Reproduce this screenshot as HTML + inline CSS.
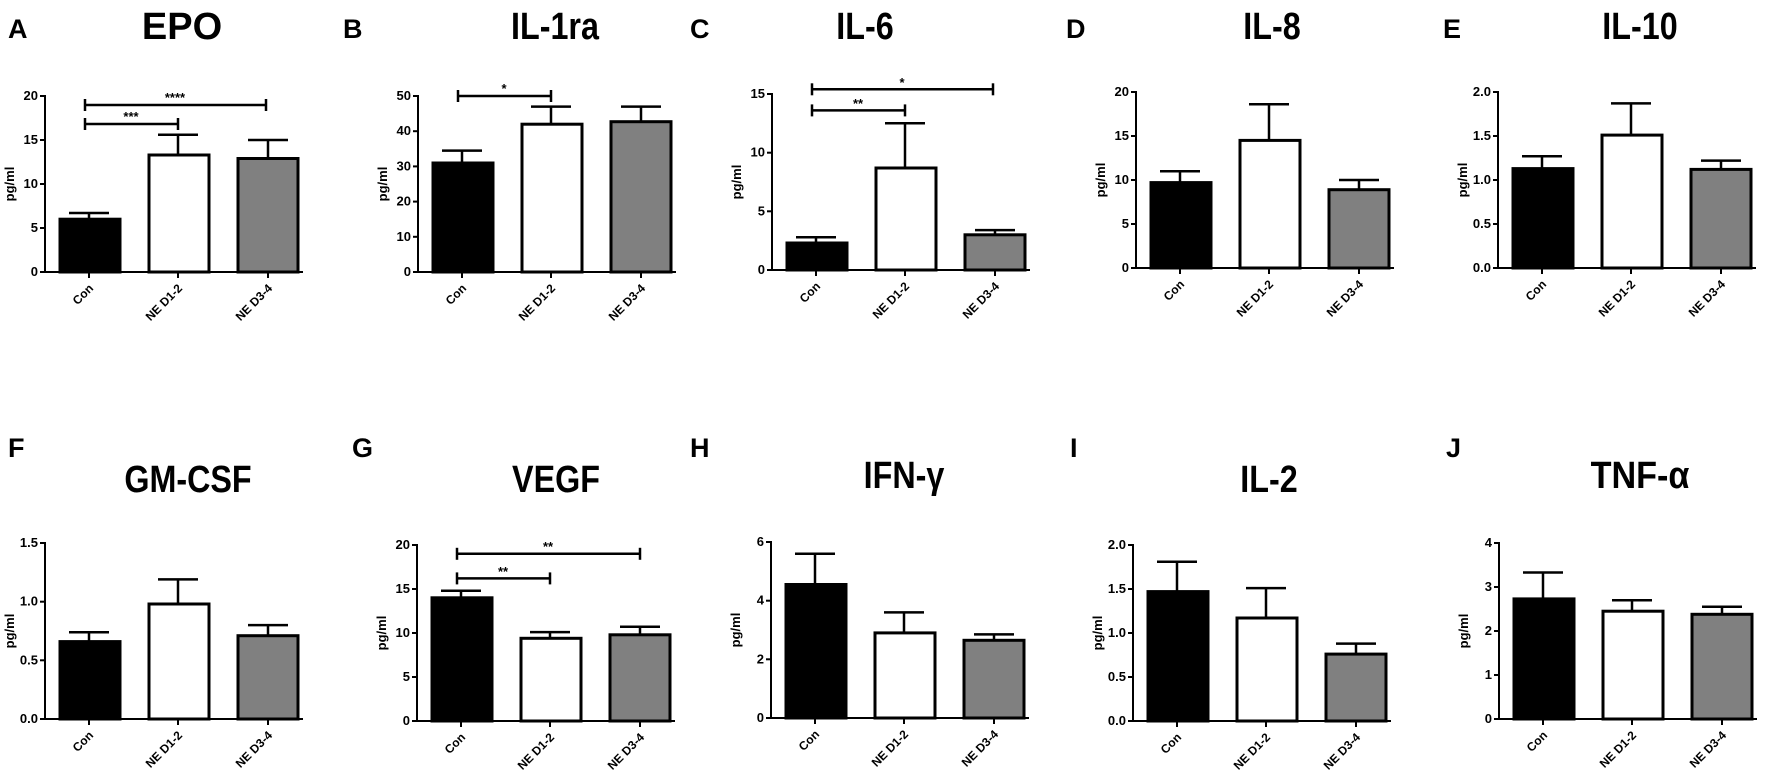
<!DOCTYPE html>
<html><head><meta charset="utf-8"><style>
html,body{margin:0;padding:0;background:#fff;}
svg{display:block;font-family:"Liberation Sans",Arial,sans-serif;}
.t{font-weight:bold;font-size:13px;}
.xt{font-weight:bold;font-size:12px;}
.yl{font-weight:bold;font-size:13px;}
.ttl{font-weight:bold;font-size:38px;}
.lt{font-weight:bold;font-size:27px;}
.st{font-size:13px;font-weight:bold;}
</style></head><body>
<svg width="1772" height="780" viewBox="0 0 1772 780" xmlns="http://www.w3.org/2000/svg">
<defs>
<g id="xl">
<line x1="44" y1="0" x2="44" y2="6" stroke="#000" stroke-width="2"/>
<line x1="133" y1="0" x2="133" y2="6" stroke="#000" stroke-width="2"/>
<line x1="223" y1="0" x2="223" y2="6" stroke="#000" stroke-width="2"/>
<text class="xt" transform="translate(49,17) rotate(-45)" text-anchor="end">Con</text>
<text class="xt" transform="translate(138,17) rotate(-45)" text-anchor="end">NE D1-2</text>
<text class="xt" transform="translate(228,17) rotate(-45)" text-anchor="end">NE D3-4</text>
<text class="yl" transform="translate(-31,-88) rotate(-90)" text-anchor="middle">pg/ml</text>
<line x1="0" y1="1" x2="0" y2="-177" stroke="#000" stroke-width="2"/>
<line x1="-1" y1="0" x2="258" y2="0" stroke="#000" stroke-width="2"/>
</g>
</defs>

<text class="lt" x="8" y="38">A</text>
<text class="ttl" x="182" y="39" text-anchor="middle">EPO</text>
<text class="lt" x="343" y="38">B</text>
<text class="ttl" x="555" y="39" text-anchor="middle" transform="translate(555,0) scale(0.85,1) translate(-555,0)">IL-1ra</text>
<text class="lt" x="690" y="38">C</text>
<text class="ttl" x="865" y="39" text-anchor="middle" transform="translate(865,0) scale(0.85,1) translate(-865,0)">IL-6</text>
<text class="lt" x="1066" y="38">D</text>
<text class="ttl" x="1272" y="39" text-anchor="middle" transform="translate(1272,0) scale(0.85,1) translate(-1272,0)">IL-8</text>
<text class="lt" x="1443" y="38">E</text>
<text class="ttl" x="1640" y="39" text-anchor="middle" transform="translate(1640,0) scale(0.85,1) translate(-1640,0)">IL-10</text>

<text class="lt" x="8" y="457">F</text>
<text class="ttl" x="188" y="492" text-anchor="middle" transform="translate(188,0) scale(0.85,1) translate(-188,0)">GM-CSF</text>
<text class="lt" x="352" y="457">G</text>
<text class="ttl" x="556" y="492" text-anchor="middle" transform="translate(556,0) scale(0.85,1) translate(-556,0)">VEGF</text>
<text class="lt" x="690" y="457">H</text>
<text class="ttl" x="904" y="488" text-anchor="middle" transform="translate(904,0) scale(0.85,1) translate(-904,0)">IFN-γ</text>
<text class="lt" x="1070" y="457">I</text>
<text class="ttl" x="1269" y="492" text-anchor="middle" transform="translate(1269,0) scale(0.85,1) translate(-1269,0)">IL-2</text>
<text class="lt" x="1446" y="457">J</text>
<text class="ttl" x="1640" y="488" text-anchor="middle" transform="translate(1640,0) scale(0.9,1) translate(-1640,0)">TNF-α</text>

<g transform="translate(45,272)">
<g stroke="#000" stroke-width="2.5" fill="none">
<line x1="44" y1="-52.8" x2="44" y2="-59"/><line x1="24" y1="-59" x2="64" y2="-59"/>
<line x1="133" y1="-117" x2="133" y2="-137.3"/><line x1="113" y1="-137.3" x2="153" y2="-137.3"/>
<line x1="223" y1="-113.5" x2="223" y2="-132"/><line x1="203" y1="-132" x2="243" y2="-132"/>
<line x1="40" y1="-148" x2="133" y2="-148"/><line x1="40" y1="-154" x2="40" y2="-142"/><line x1="133" y1="-154" x2="133" y2="-142"/>
<line x1="40" y1="-167" x2="221" y2="-167"/><line x1="40" y1="-173" x2="40" y2="-161"/><line x1="221" y1="-173" x2="221" y2="-161"/>
</g>
<text class="st" x="86" y="-151" text-anchor="middle">***</text>
<text class="st" x="130" y="-170" text-anchor="middle">****</text>
<rect x="15" y="-52.8" width="60" height="52.8" fill="#000" stroke="#000" stroke-width="3"/>
<rect x="104" y="-117" width="60" height="117" fill="#fff" stroke="#000" stroke-width="3"/>
<rect x="193" y="-113.5" width="60" height="113.5" fill="#808080" stroke="#000" stroke-width="3"/>
<use href="#xl"/>
<g class="t" text-anchor="end"><text x="-7" y="4">0</text><text x="-7" y="-40">5</text><text x="-7" y="-84">10</text><text x="-7" y="-128">15</text><text x="-7" y="-172">20</text></g>
<g stroke="#000" stroke-width="2"><line x1="-5" y1="0" x2="0" y2="0"/><line x1="-5" y1="-44" x2="0" y2="-44"/><line x1="-5" y1="-88" x2="0" y2="-88"/><line x1="-5" y1="-132" x2="0" y2="-132"/><line x1="-5" y1="-176" x2="0" y2="-176"/></g>
</g>

<g transform="translate(418,272)">
<g stroke="#000" stroke-width="2.5" fill="none">
<line x1="44" y1="-109" x2="44" y2="-121.4"/><line x1="24" y1="-121.4" x2="64" y2="-121.4"/>
<line x1="133" y1="-147.8" x2="133" y2="-165.4"/><line x1="113" y1="-165.4" x2="153" y2="-165.4"/>
<line x1="223" y1="-150.3" x2="223" y2="-165.4"/><line x1="203" y1="-165.4" x2="243" y2="-165.4"/>
<line x1="40" y1="-176" x2="133" y2="-176"/><line x1="40" y1="-182" x2="40" y2="-170"/><line x1="133" y1="-182" x2="133" y2="-170"/>
</g>
<text class="st" x="86" y="-179" text-anchor="middle">*</text>
<rect x="15" y="-109" width="60" height="109" fill="#000" stroke="#000" stroke-width="3"/>
<rect x="104" y="-147.8" width="60" height="147.8" fill="#fff" stroke="#000" stroke-width="3"/>
<rect x="193" y="-150.3" width="60" height="150.3" fill="#808080" stroke="#000" stroke-width="3"/>
<use href="#xl"/>
<g class="t" text-anchor="end"><text x="-7" y="4">0</text><text x="-7" y="-31.2">10</text><text x="-7" y="-66.4">20</text><text x="-7" y="-101.6">30</text><text x="-7" y="-136.8">40</text><text x="-7" y="-172">50</text></g>
<g stroke="#000" stroke-width="2"><line x1="-5" y1="0" x2="0" y2="0"/><line x1="-5" y1="-35.2" x2="0" y2="-35.2"/><line x1="-5" y1="-70.4" x2="0" y2="-70.4"/><line x1="-5" y1="-105.6" x2="0" y2="-105.6"/><line x1="-5" y1="-140.8" x2="0" y2="-140.8"/><line x1="-5" y1="-176" x2="0" y2="-176"/></g>
</g>

<g transform="translate(772,270)">
<g stroke="#000" stroke-width="2.5" fill="none">
<line x1="44" y1="-27" x2="44" y2="-32.8"/><line x1="24" y1="-32.8" x2="64" y2="-32.8"/>
<line x1="133" y1="-102" x2="133" y2="-146.7"/><line x1="113" y1="-146.7" x2="153" y2="-146.7"/>
<line x1="223" y1="-35.2" x2="223" y2="-39.9"/><line x1="203" y1="-39.9" x2="243" y2="-39.9"/>
<line x1="40" y1="-159.6" x2="133" y2="-159.6"/><line x1="40" y1="-165.6" x2="40" y2="-153.6"/><line x1="133" y1="-165.6" x2="133" y2="-153.6"/>
<line x1="40" y1="-180.7" x2="221" y2="-180.7"/><line x1="40" y1="-186.7" x2="40" y2="-174.7"/><line x1="221" y1="-186.7" x2="221" y2="-174.7"/>
</g>
<text class="st" x="86" y="-162" text-anchor="middle">**</text>
<text class="st" x="130" y="-183" text-anchor="middle">*</text>
<rect x="15" y="-27" width="60" height="27" fill="#000" stroke="#000" stroke-width="3"/>
<rect x="104" y="-102" width="60" height="102" fill="#fff" stroke="#000" stroke-width="3"/>
<rect x="193" y="-35.2" width="60" height="35.2" fill="#808080" stroke="#000" stroke-width="3"/>
<use href="#xl"/>
<g class="t" text-anchor="end"><text x="-7" y="4">0</text><text x="-7" y="-54.7">5</text><text x="-7" y="-113.3">10</text><text x="-7" y="-172">15</text></g>
<g stroke="#000" stroke-width="2"><line x1="-5" y1="0" x2="0" y2="0"/><line x1="-5" y1="-58.7" x2="0" y2="-58.7"/><line x1="-5" y1="-117.3" x2="0" y2="-117.3"/><line x1="-5" y1="-176" x2="0" y2="-176"/></g>
</g>

<g transform="translate(1136,268)">
<g stroke="#000" stroke-width="2.5" fill="none">
<line x1="44" y1="-85.4" x2="44" y2="-96.8"/><line x1="24" y1="-96.8" x2="64" y2="-96.8"/>
<line x1="133" y1="-127.6" x2="133" y2="-163.7"/><line x1="113" y1="-163.7" x2="153" y2="-163.7"/>
<line x1="223" y1="-78.3" x2="223" y2="-88"/><line x1="203" y1="-88" x2="243" y2="-88"/>
</g>
<rect x="15" y="-85.4" width="60" height="85.4" fill="#000" stroke="#000" stroke-width="3"/>
<rect x="104" y="-127.6" width="60" height="127.6" fill="#fff" stroke="#000" stroke-width="3"/>
<rect x="193" y="-78.3" width="60" height="78.3" fill="#808080" stroke="#000" stroke-width="3"/>
<use href="#xl"/>
<g class="t" text-anchor="end"><text x="-7" y="4">0</text><text x="-7" y="-40">5</text><text x="-7" y="-84">10</text><text x="-7" y="-128">15</text><text x="-7" y="-172">20</text></g>
<g stroke="#000" stroke-width="2"><line x1="-5" y1="0" x2="0" y2="0"/><line x1="-5" y1="-44" x2="0" y2="-44"/><line x1="-5" y1="-88" x2="0" y2="-88"/><line x1="-5" y1="-132" x2="0" y2="-132"/><line x1="-5" y1="-176" x2="0" y2="-176"/></g>
</g>

<g transform="translate(1498,268)">
<g stroke="#000" stroke-width="2.5" fill="none">
<line x1="44" y1="-99.4" x2="44" y2="-111.8"/><line x1="24" y1="-111.8" x2="64" y2="-111.8"/>
<line x1="133" y1="-132.9" x2="133" y2="-164.6"/><line x1="113" y1="-164.6" x2="153" y2="-164.6"/>
<line x1="223" y1="-98.6" x2="223" y2="-107.4"/><line x1="203" y1="-107.4" x2="243" y2="-107.4"/>
</g>
<rect x="15" y="-99.4" width="60" height="99.4" fill="#000" stroke="#000" stroke-width="3"/>
<rect x="104" y="-132.9" width="60" height="132.9" fill="#fff" stroke="#000" stroke-width="3"/>
<rect x="193" y="-98.6" width="60" height="98.6" fill="#808080" stroke="#000" stroke-width="3"/>
<use href="#xl"/>
<g class="t" text-anchor="end"><text x="-7" y="4">0.0</text><text x="-7" y="-40">0.5</text><text x="-7" y="-84">1.0</text><text x="-7" y="-128">1.5</text><text x="-7" y="-172">2.0</text></g>
<g stroke="#000" stroke-width="2"><line x1="-5" y1="0" x2="0" y2="0"/><line x1="-5" y1="-44" x2="0" y2="-44"/><line x1="-5" y1="-88" x2="0" y2="-88"/><line x1="-5" y1="-132" x2="0" y2="-132"/><line x1="-5" y1="-176" x2="0" y2="-176"/></g>
</g>

<g transform="translate(45,719)">
<g stroke="#000" stroke-width="2.5" fill="none">
<line x1="44" y1="-77.4" x2="44" y2="-86.8"/><line x1="24" y1="-86.8" x2="64" y2="-86.8"/>
<line x1="133" y1="-115" x2="133" y2="-139.6"/><line x1="113" y1="-139.6" x2="153" y2="-139.6"/>
<line x1="223" y1="-83.3" x2="223" y2="-93.9"/><line x1="203" y1="-93.9" x2="243" y2="-93.9"/>
</g>
<rect x="15" y="-77.4" width="60" height="77.4" fill="#000" stroke="#000" stroke-width="3"/>
<rect x="104" y="-115" width="60" height="115" fill="#fff" stroke="#000" stroke-width="3"/>
<rect x="193" y="-83.3" width="60" height="83.3" fill="#808080" stroke="#000" stroke-width="3"/>
<use href="#xl"/>
<g class="t" text-anchor="end"><text x="-7" y="4">0.0</text><text x="-7" y="-54.7">0.5</text><text x="-7" y="-113.3">1.0</text><text x="-7" y="-172">1.5</text></g>
<g stroke="#000" stroke-width="2"><line x1="-5" y1="0" x2="0" y2="0"/><line x1="-5" y1="-58.7" x2="0" y2="-58.7"/><line x1="-5" y1="-117.3" x2="0" y2="-117.3"/><line x1="-5" y1="-176" x2="0" y2="-176"/></g>
</g>

<g transform="translate(417,721)">
<g stroke="#000" stroke-width="2.5" fill="none">
<line x1="44" y1="-123.2" x2="44" y2="-130.2"/><line x1="24" y1="-130.2" x2="64" y2="-130.2"/>
<line x1="133" y1="-82.7" x2="133" y2="-88.9"/><line x1="113" y1="-88.9" x2="153" y2="-88.9"/>
<line x1="223" y1="-86.2" x2="223" y2="-94.2"/><line x1="203" y1="-94.2" x2="243" y2="-94.2"/>
<line x1="40" y1="-142.6" x2="133" y2="-142.6"/><line x1="40" y1="-148.6" x2="40" y2="-136.6"/><line x1="133" y1="-148.6" x2="133" y2="-136.6"/>
<line x1="40" y1="-167.2" x2="223" y2="-167.2"/><line x1="40" y1="-173.2" x2="40" y2="-161.2"/><line x1="223" y1="-173.2" x2="223" y2="-161.2"/>
</g>
<text class="st" x="86" y="-145" text-anchor="middle">**</text>
<text class="st" x="131" y="-170" text-anchor="middle">**</text>
<rect x="15" y="-123.2" width="60" height="123.2" fill="#000" stroke="#000" stroke-width="3"/>
<rect x="104" y="-82.7" width="60" height="82.7" fill="#fff" stroke="#000" stroke-width="3"/>
<rect x="193" y="-86.2" width="60" height="86.2" fill="#808080" stroke="#000" stroke-width="3"/>
<use href="#xl"/>
<g class="t" text-anchor="end"><text x="-7" y="4">0</text><text x="-7" y="-40">5</text><text x="-7" y="-84">10</text><text x="-7" y="-128">15</text><text x="-7" y="-172">20</text></g>
<g stroke="#000" stroke-width="2"><line x1="-5" y1="0" x2="0" y2="0"/><line x1="-5" y1="-44" x2="0" y2="-44"/><line x1="-5" y1="-88" x2="0" y2="-88"/><line x1="-5" y1="-132" x2="0" y2="-132"/><line x1="-5" y1="-176" x2="0" y2="-176"/></g>
</g>

<g transform="translate(771,718)">
<g stroke="#000" stroke-width="2.5" fill="none">
<line x1="44" y1="-133.5" x2="44" y2="-164.3"/><line x1="24" y1="-164.3" x2="64" y2="-164.3"/>
<line x1="133" y1="-85.1" x2="133" y2="-105.6"/><line x1="113" y1="-105.6" x2="153" y2="-105.6"/>
<line x1="223" y1="-77.7" x2="223" y2="-83.6"/><line x1="203" y1="-83.6" x2="243" y2="-83.6"/>
</g>
<rect x="15" y="-133.5" width="60" height="133.5" fill="#000" stroke="#000" stroke-width="3"/>
<rect x="104" y="-85.1" width="60" height="85.1" fill="#fff" stroke="#000" stroke-width="3"/>
<rect x="193" y="-77.7" width="60" height="77.7" fill="#808080" stroke="#000" stroke-width="3"/>
<use href="#xl"/>
<g class="t" text-anchor="end"><text x="-7" y="4">0</text><text x="-7" y="-54.7">2</text><text x="-7" y="-113.3">4</text><text x="-7" y="-172">6</text></g>
<g stroke="#000" stroke-width="2"><line x1="-5" y1="0" x2="0" y2="0"/><line x1="-5" y1="-58.7" x2="0" y2="-58.7"/><line x1="-5" y1="-117.3" x2="0" y2="-117.3"/><line x1="-5" y1="-176" x2="0" y2="-176"/></g>
</g>

<g transform="translate(1133,721)">
<g stroke="#000" stroke-width="2.5" fill="none">
<line x1="44" y1="-129.4" x2="44" y2="-159.3"/><line x1="24" y1="-159.3" x2="64" y2="-159.3"/>
<line x1="133" y1="-103" x2="133" y2="-132.9"/><line x1="113" y1="-132.9" x2="153" y2="-132.9"/>
<line x1="223" y1="-66.9" x2="223" y2="-77.4"/><line x1="203" y1="-77.4" x2="243" y2="-77.4"/>
</g>
<rect x="15" y="-129.4" width="60" height="129.4" fill="#000" stroke="#000" stroke-width="3"/>
<rect x="104" y="-103" width="60" height="103" fill="#fff" stroke="#000" stroke-width="3"/>
<rect x="193" y="-66.9" width="60" height="66.9" fill="#808080" stroke="#000" stroke-width="3"/>
<use href="#xl"/>
<g class="t" text-anchor="end"><text x="-7" y="4">0.0</text><text x="-7" y="-40">0.5</text><text x="-7" y="-84">1.0</text><text x="-7" y="-128">1.5</text><text x="-7" y="-172">2.0</text></g>
<g stroke="#000" stroke-width="2"><line x1="-5" y1="0" x2="0" y2="0"/><line x1="-5" y1="-44" x2="0" y2="-44"/><line x1="-5" y1="-88" x2="0" y2="-88"/><line x1="-5" y1="-132" x2="0" y2="-132"/><line x1="-5" y1="-176" x2="0" y2="-176"/></g>
</g>

<g transform="translate(1499,719)">
<g stroke="#000" stroke-width="2.5" fill="none">
<line x1="44" y1="-120.1" x2="44" y2="-146.5"/><line x1="24" y1="-146.5" x2="64" y2="-146.5"/>
<line x1="133" y1="-107.8" x2="133" y2="-118.8"/><line x1="113" y1="-118.8" x2="153" y2="-118.8"/>
<line x1="223" y1="-104.7" x2="223" y2="-112.2"/><line x1="203" y1="-112.2" x2="243" y2="-112.2"/>
</g>
<rect x="15" y="-120.1" width="60" height="120.1" fill="#000" stroke="#000" stroke-width="3"/>
<rect x="104" y="-107.8" width="60" height="107.8" fill="#fff" stroke="#000" stroke-width="3"/>
<rect x="193" y="-104.7" width="60" height="104.7" fill="#808080" stroke="#000" stroke-width="3"/>
<use href="#xl"/>
<g class="t" text-anchor="end"><text x="-7" y="4">0</text><text x="-7" y="-40">1</text><text x="-7" y="-84">2</text><text x="-7" y="-128">3</text><text x="-7" y="-172">4</text></g>
<g stroke="#000" stroke-width="2"><line x1="-5" y1="0" x2="0" y2="0"/><line x1="-5" y1="-44" x2="0" y2="-44"/><line x1="-5" y1="-88" x2="0" y2="-88"/><line x1="-5" y1="-132" x2="0" y2="-132"/><line x1="-5" y1="-176" x2="0" y2="-176"/></g>
</g>
</svg>
</body></html>
